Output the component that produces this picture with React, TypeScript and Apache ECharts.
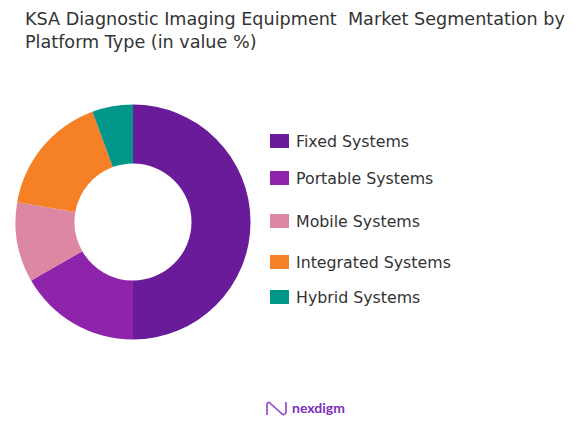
import React, { useEffect, useRef } from "react";
import * as echarts from "echarts";

const categories = ["Fixed Systems", "Portable Systems", "Mobile Systems", "Integrated Systems", "Hybrid Systems"];
const values = [50, 16.7, 11, 16.7, 5.6];
const colors = ["#6A1B9A", "#8E24AA", "#DD88A3", "#F58025", "#00968A"];
const legendTops = [120, 157, 200, 241, 276];
const titleText = "KSA Diagnostic Imaging Equipment  Market Segmentation by\nPlatform Type (in value %)";

echarts.graphic.registerShape(
  "logo",
  echarts.graphic.extendPath(
    "M1 13 L1 3 C1 0 3 -0.5 5 2 L15 11 C17 13.5 20 13 20 10 L20 0",
    {}
  )
);

export default function App() {
  const ref = useRef<HTMLDivElement>(null);
  useEffect(() => {
    if (!ref.current) return;
    const chart = echarts.init(ref.current, null, { renderer: "svg" });
    const font = "DejaVu Sans";
    chart.setOption({
      animation: false,
      title: {
        text: titleText,
        left: 12,
        top: -6,
        textStyle: { fontFamily: font, fontSize: 17.6, fontWeight: "normal", color: "#333333", lineHeight: 23 },
      },
      legend: categories.map((c, i) => ({
        data: [c],
        left: 257,
        top: legendTops[i],
        orient: "vertical",
        itemWidth: 19,
        itemHeight: 14,
        icon: "rect",
        textStyle: { fontFamily: font, fontSize: 15.8, color: "#333333", padding: [0, 0, 0, 2] },
      })),
      series: [
        {
          type: "pie",
          center: [125, 214],
          radius: [58.5, 117.5],
          startAngle: 90,
          clockwise: true,
          label: { show: false },
          labelLine: { show: false },
          emphasis: { disabled: true },
          data: categories.map((c, i) => ({ name: c, value: values[i], itemStyle: { color: colors[i] } })),
        },
      ],
      graphic: [
        {
          type: "logo",
          x: 258,
          y: 394,
          style: { fill: "none", stroke: "#8E44C8", lineWidth: 1.6 },
        },
        {
          type: "text",
          x: 284,
          y: 399,
          style: { text: "nexdigm", fill: "#7B2FBE", font: "bold 14px Lato", textVerticalAlign: "middle" },
        },
      ],
    });
    return () => chart.dispose();
  }, []);
  return <div ref={ref} style={{ width: 560, height: 409 }} />;
}
